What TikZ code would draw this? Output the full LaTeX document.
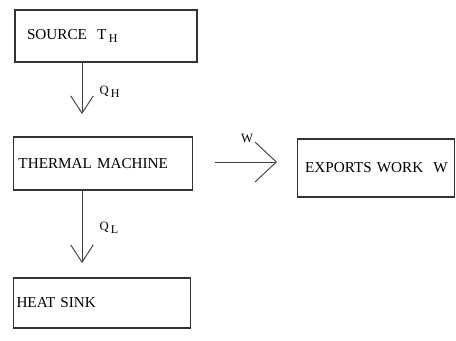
\documentclass[tikz,border=0pt]{standalone}
\usepackage{fontspec}
\setmainfont{Liberation Serif}
\usetikzlibrary{arrows.meta}
\newcommand{\lowsub}[1]{\,{\small\raisebox{-0.55ex}{#1}}}
\begin{document}
\begin{tikzpicture}[
        x=0.75pt, y=-0.75pt,
        box/.style={rectangle, draw=black!80, line width=0.8pt, align=left, inner ysep=0pt, font=\fontsize{11.4}{13}\selectfont},
        flow/.style={draw=black!75, line width=0.7pt, -{Straight Barb[length=13pt, width=17pt, line width=0.7pt]}},
        work/.style={draw=black!75, line width=0.7pt, -{Straight Barb[length=16pt, width=30pt, line width=0.7pt]}},
        lbl/.style={font=\fontsize{9.5}{11}\selectfont, inner sep=1pt}
      ]
      \useasboundingbox (0,0) rectangle (456,341);
      \node[box, inner xsep=9pt, minimum height=52*0.75pt, text width=158*0.75pt] (source) at (106,36) {SOURCE\ \ T\lowsub{H}};
      \node[box, inner xsep=4pt, minimum height=53*0.75pt, text width=169*0.75pt] (machine) at (103,163.5) {THERMAL MACHINE};
      \node[box, inner xsep=4pt, minimum height=58*0.75pt, text width=147*0.75pt] (exports) at (376,168) {\hspace*{2pt}EXPORTS WORK\ \ W};
      \node[box, inner xsep=2pt, minimum height=50*0.75pt, text width=171*0.75pt] (sink) at (102,303) {HEAT SINK};
      \coordinate (qhtip) at (82,114);
      \coordinate (qltip) at (82,263);
      \coordinate (wtail) at (215,162);
      \coordinate (wtip) at (277,162);
      \draw[flow] (qhtip |- source.south) -- (qhtip);
      \draw[flow] (qltip |- machine.south) -- (qltip);
      \draw[work] (wtail) -- (wtip);
      \node[lbl, anchor=west] (qh) at (98,92) {Q\lowsub{H}};
      \node[lbl, anchor=west] (ql) at (98,228) {Q\lowsub{L}};
      \node[lbl] (w) at (247,138) {W};
    \end{tikzpicture}
\end{document}
